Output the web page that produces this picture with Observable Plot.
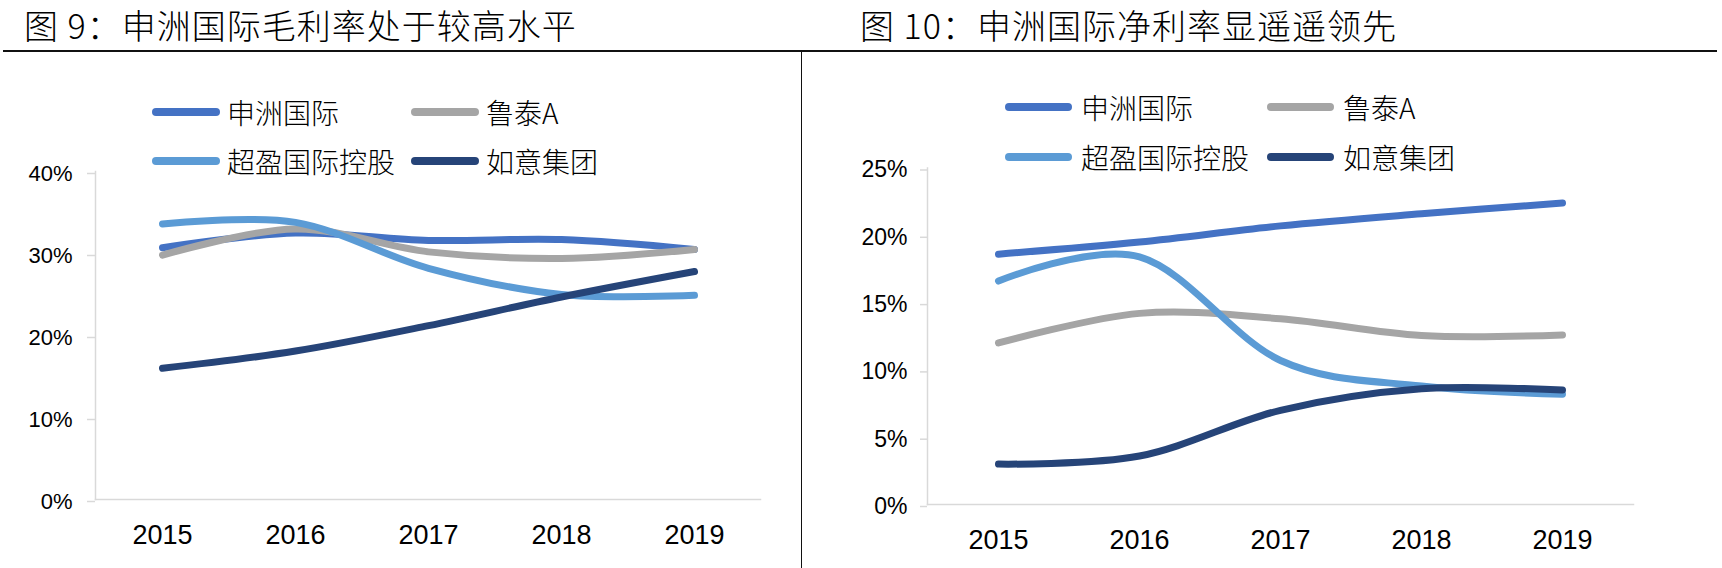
<!DOCTYPE html>
<html>
<head>
<meta charset="utf-8">
<script src="https://cdn.jsdelivr.net/npm/d3@7"></script>
<script src="https://cdn.jsdelivr.net/npm/@observablehq/plot@0.6"></script>
<style>
  html, body { margin: 0; padding: 0; background: #fff; }
  #page { position: relative; width: 1722px; height: 568px; overflow: hidden; background: #fff; }
  .title { position: absolute; top: 8px; font-family: "Noto Sans CJK SC", sans-serif; font-weight: 300; font-size: 34px; line-height: 34px; letter-spacing: 1px; color: #000; white-space: nowrap; }
  .rule { position: absolute; background: #111; }
  .chart { position: absolute; top: 60px; }
  .leg { position: absolute; display: flex; align-items: center; height: 40px; font-family: "Noto Sans CJK SC", sans-serif; font-weight: 300; font-size: 28px; color: #000; white-space: nowrap; }
  .sw { height: 8px; border-radius: 4px; }
</style>
</head>
<body>
<div id="page">
  <div class="title" style="left:24px">图 9：申洲国际毛利率处于较高水平</div>
  <div class="title" style="left:860px">图 10：申洲国际净利率显遥遥领先</div>
  <div class="rule" style="left:3px; top:50px; width:1714px; height:1.5px"></div>
  <div class="rule" style="left:801px; top:50px; width:1.3px; height:518px"></div>
  <div id="left" class="chart" style="left:0px"></div>
  <div id="right" class="chart" style="left:803px"></div>
</div>
<script>
// ---- data ----
const years = ["2015", "2016", "2017", "2018", "2019"];
const seriesNames = ["申洲国际", "鲁泰A", "超盈国际控股", "如意集团"];
const seriesColors = ["#4472C4", "#A5A5A5", "#5B9BD5", "#264478"];

// 毛利率 (%)
const grossShenzhou = [30.7, 32.5, 31.6, 31.7, 30.5];
const grossLutai    = [29.8, 33.0, 30.2, 29.4, 30.5];
const grossChaoying = [33.6, 33.8, 28.2, 25.0, 24.9];
const grossRuyi     = [16.0, 18.1, 21.2, 24.7, 27.8];

// 净利率 (%)
const netShenzhou = [18.6, 19.5, 20.7, 21.6, 22.4];
const netLutai    = [12.0, 14.2, 13.8, 12.55, 12.6];
const netChaoying = [16.6, 18.4, 10.7, 8.8, 8.2];
const netRuyi     = [3.0, 3.6, 7.0, 8.6, 8.5];

const grossTicks = [0, 10, 20, 30, 40];
const netTicks = [0, 5, 10, 15, 20, 25];

// ---- build tables ----
function toRows(valueLists) {
  return seriesNames.flatMap((s, i) => years.map((yr, j) => ({series: s, year: yr, value: valueLists[i][j]})));
}
const grossRows = toRows([grossShenzhou, grossLutai, grossChaoying, grossRuyi]);
const netRows = toRows([netShenzhou, netLutai, netChaoying, netRuyi]);

function makeChart(rows, ticks, cfg) {
  return Plot.plot({
    width: cfg.width, height: 508,
    marginLeft: cfg.ml, marginRight: cfg.mr, marginTop: cfg.mt, marginBottom: cfg.mb,
    style: {fontFamily: "'Liberation Sans', Arial, sans-serif", color: "#000", background: "transparent", overflow: "visible"},
    x: {type: "point", domain: years, padding: 0.5},
    y: {domain: [ticks[0], ticks[ticks.length - 1]]},
    color: {domain: seriesNames, range: seriesColors},
    marks: [
      Plot.frame({anchor: "left", stroke: "#d9d9d9", strokeWidth: 1.5}),
      Plot.frame({anchor: "bottom", stroke: "#d9d9d9", strokeWidth: 1.5}),
      Plot.axisY({ticks: ticks, tickFormat: d => d + "%", tickSize: cfg.ts, tickPadding: cfg.tp, fontSize: cfg.yfs, stroke: "#d9d9d9", strokeWidth: 1.5, dy: 2, label: null}),
      Plot.axisX({tickSize: 0, tickPadding: 25, fontSize: 27, label: null}),
      Plot.line(rows, {x: "year", y: "value", z: "series", stroke: "series", strokeWidth: 7, curve: "cardinal", tension: 0, strokeLinecap: "round", strokeLinejoin: "round"})
    ]
  });
}

document.getElementById("left").appendChild(
  makeChart(grossRows, grossTicks, {width: 800, ml: 95, mr: 40, mt: 111, mb: 69, ts: 8, tp: 15, yfs: 22})
);
document.getElementById("right").appendChild(
  makeChart(netRows, netTicks, {width: 919, ml: 124, mr: 89, mt: 107.5, mb: 64, ts: 7, tp: 13, yfs: 23})
);

// ---- legends ----
function addLegend(cfg) {
  const page = document.getElementById("page");
  seriesNames.forEach((name, i) => {
    const col = i % 2, row = Math.floor(i / 2);
    const item = document.createElement("div");
    item.className = "leg";
    item.style.left = cfg.cols[col] + "px";
    item.style.top = (cfg.rows[row] - 20) + "px";
    const sw = document.createElement("div");
    sw.className = "sw";
    sw.style.width = cfg.sw + "px";
    sw.style.background = seriesColors[i];
    sw.style.marginRight = cfg.gap + "px";
    const tx = document.createElement("span");
    tx.textContent = name;
    item.appendChild(sw);
    item.appendChild(tx);
    page.appendChild(item);
  });
}
addLegend({cols: [152, 411], rows: [111.5, 160.5], sw: 68, gap: 7});
addLegend({cols: [1005, 1267], rows: [107, 157], sw: 67, gap: 9});
</script>
</body>
</html>
